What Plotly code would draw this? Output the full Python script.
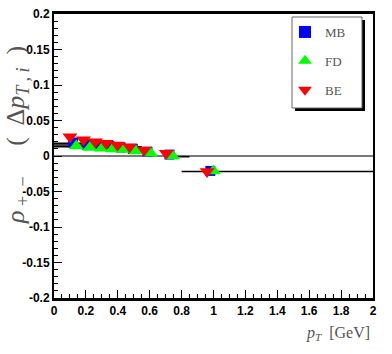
import plotly.graph_objects as go

# Data
pt_red = [0.10, 0.185, 0.26, 0.327, 0.398, 0.474, 0.566, 0.704, 0.96]
pt_blue = [0.12, 0.205, 0.28, 0.347, 0.418, 0.494, 0.586, 0.724, 0.98]
pt_green = [0.14, 0.225, 0.30, 0.367, 0.438, 0.514, 0.606, 0.744, 1.00]
be_vals = [0.027, 0.023, 0.020, 0.018, 0.0155, 0.013, 0.0085, 0.004, -0.022]
mb_vals = [0.019, 0.016, 0.015, 0.014, 0.012, 0.010, 0.006, 0.002, -0.021]
fd_vals = [0.014, 0.012, 0.011, 0.010, 0.009, 0.007, 0.004, 0.000, -0.021]

# horizontal reference segments (x0, x1, y)
seg_x0 = [0.0, 0.0, 0.0, 0.80, 0.72]
seg_x1 = [0.30, 0.45, 0.55, 2.0, 0.85]
seg_y = [0.018, 0.0156, 0.013, -0.022, -0.001]

xticks = [0, 0.2, 0.4, 0.6, 0.8, 1, 1.2, 1.4, 1.6, 1.8, 2]
xticklabels = ["0", "0.2", "0.4", "0.6", "0.8", "1", "1.2", "1.4", "1.6", "1.8", "2"]
yticks = [-0.2, -0.15, -0.1, -0.05, 0, 0.05, 0.1, 0.15, 0.2]
yticklabels = ["-0.2", "-0.15", "-0.1", "-0.05", "0", "0.05", "0.1", "0.15", "0.2"]

W, H = 392, 354
L, R, T, B = 54, 19, 14, 56
PW, PH = W - L - R, H - T - B

fig = go.Figure()

# zero line
fig.add_trace(go.Scatter(x=[0, 2], y=[0, 0], mode="lines",
                         line=dict(color="#7a7a7a", width=2), showlegend=False, hoverinfo="skip"))
for a, b, y in zip(seg_x0, seg_x1, seg_y):
    fig.add_trace(go.Scatter(x=[a, b], y=[y, y], mode="lines",
                             line=dict(color="black", width=1.5), showlegend=False, hoverinfo="skip"))

fig.add_trace(go.Scatter(x=pt_blue, y=mb_vals, mode="markers", name="MB", legendgroup="a",
                         marker=dict(symbol="square", color="#0000ff", size=10)))
fig.add_trace(go.Scatter(x=pt_green, y=fd_vals, mode="markers", name="FD", legendgroup="b",
                         marker=dict(symbol="triangle-up", color="#00ff00", size=13)))
fig.add_trace(go.Scatter(x=pt_red, y=be_vals, mode="markers", name="BE", legendgroup="c",
                         marker=dict(symbol="triangle-down", color="#ff0000", size=13)))

tickfont = dict(family="Liberation Sans Narrow, Liberation Sans", size=12, color="black")

def px(xp):
    return (xp - L) / PW

def py(yp):
    return (H - B - yp) / PH

# legend box with shadow
fig.add_shape(type="rect", xref="paper", yref="paper",
              x0=px(295), x1=px(365), y0=py(111), y1=py(20),
              fillcolor="black", line=dict(width=0), layer="above")
fig.add_shape(type="rect", xref="paper", yref="paper",
              x0=px(292), x1=px(362), y0=py(108), y1=py(17),
              fillcolor="white", line=dict(width=1, color="#666"), layer="above")

fig.update_layout(
    width=W, height=H,
    margin=dict(l=L, r=R, t=T, b=B, autoexpand=False),
    paper_bgcolor="white", plot_bgcolor="white",
    showlegend=True,
    legend=dict(x=px(285), y=py(17), xanchor="left", yanchor="top",
                bgcolor="rgba(0,0,0,0)", borderwidth=0,
                font=dict(family="Liberation Serif", size=13, color="#555"),
                itemsizing="constant", tracegroupgap=9, traceorder="grouped",
                entrywidth=40),
    xaxis=dict(range=[0, 2], tickvals=xticks, ticktext=["<b>%s</b>" % t for t in xticklabels],
               automargin=False, ticklabeloverflow="allow",
               ticks="inside", ticklen=8, tickwidth=1, tickcolor="black",
               minor=dict(dtick=0.05, ticks="inside", ticklen=4, tickcolor="black"),
               showgrid=False, zeroline=False, showline=True, linecolor="black",
               linewidth=3, mirror=True, tickfont=tickfont),
    yaxis=dict(range=[-0.2, 0.2], tickvals=yticks, ticktext=["<b>%s</b>" % t for t in yticklabels],
               automargin=False, ticklabeloverflow="allow",
               ticks="inside", ticklen=8, tickwidth=1, tickcolor="black",
               minor=dict(dtick=0.01, ticks="inside", ticklen=4, tickcolor="black"),
               showgrid=False, zeroline=False, showline=True, linecolor="black",
               linewidth=2, mirror=True, tickfont=tickfont),
    annotations=[
        dict(text="<i>p<sub>T</sub></i>  [GeV]", xref="paper", yref="paper",
             x=px(372), y=py(322), xanchor="right", yanchor="top", showarrow=False,
             font=dict(family="Liberation Serif", size=16, color="#555")),
        dict(text="<i>ρ</i><sub> +  − </sub>    (  Δ<i>p</i><sub><i>T , i</i></sub>  )", xref="paper", yref="paper",
             x=px(17), y=py(135), xanchor="center", yanchor="middle", showarrow=False,
             textangle=-90,
             font=dict(family="Liberation Serif", size=26, color="#555")),
    ],
)

fig.write_html("out.html", config={"displayModeBar": False},
               post_script="document.body.style.margin='0px';")
